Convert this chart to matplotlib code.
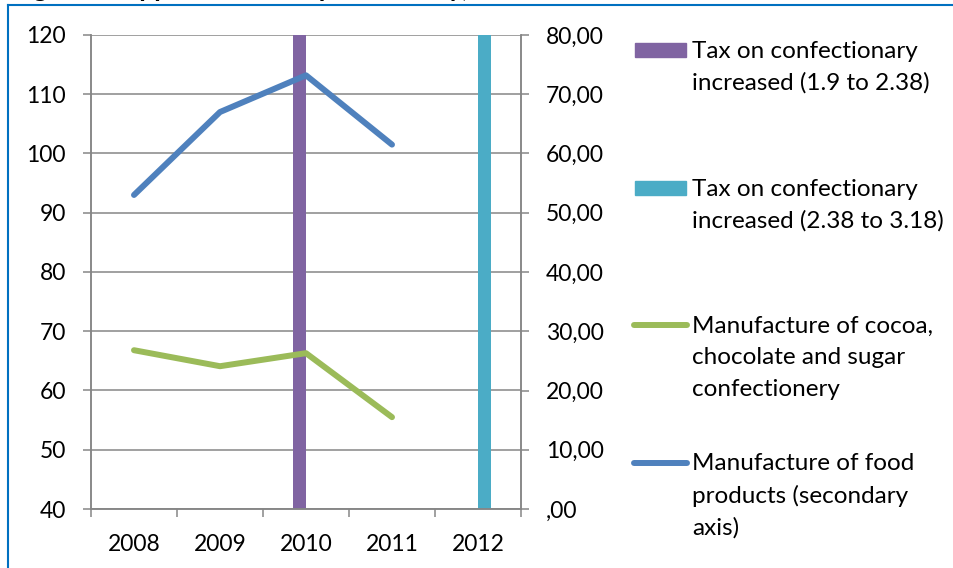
import matplotlib
matplotlib.use("Agg")
import matplotlib.pyplot as plt
import numpy as np
from matplotlib.lines import Line2D
from matplotlib.patches import Rectangle

YEARS = ["2008", "2009", "2010", "2011", "2012"]
TAX_STEP_1 = [np.nan, np.nan, 120, np.nan, np.nan]   # primary axis, full height
TAX_STEP_2 = [np.nan, np.nan, np.nan, np.nan, 120]
COCOA = [66.8, 64.1, 66.3, 55.5, np.nan]             # primary axis
FOOD = [53.0, 67.0, 73.2, 61.5, np.nan]              # secondary axis

LABELS = [
    "Tax on confectionary\nincreased (1.9 to 2.38)",
    "Tax on confectionary\nincreased (2.38 to 3.18)",
    "Manufacture of cocoa,\nchocolate and sugar\nconfectionery",
    "Manufacture of food\nproducts (secondary\naxis)",
]

PURPLE, CYAN, GREEN, BLUE = "#8064A2", "#4BACC6", "#9BBB59", "#4F81BD"
AXC = "#868686"
FONT = "Lato"
FS_TICK = 16.5
FS_LEG = 17.5

W, H = 954, 568
fig = plt.figure(figsize=(W / 100, H / 100), dpi=100)
plt.rcParams["font.family"] = FONT


def fx(px):
    return px / W


def fy(py):
    return 1 - py / H


ax = fig.add_axes([fx(91), fy(509), fx(521) - fx(91), fy(35) - fy(509)])
ax2 = ax.twinx()

x = np.arange(len(YEARS))
bw = 0.15
ymin = 40
ax.bar(x - bw / 2, np.array(TAX_STEP_1) - ymin, bottom=ymin, width=bw, color=PURPLE, zorder=2)
ax.bar(x + bw / 2, np.array(TAX_STEP_2) - ymin, bottom=ymin, width=bw, color=CYAN, zorder=2)
ax.plot(x, COCOA, color=GREEN, lw=4.3, solid_capstyle="round", solid_joinstyle="round", zorder=3)
ax2.plot(x, FOOD, color=BLUE, lw=4.3, solid_capstyle="round", solid_joinstyle="round", zorder=3)

ax.set_xlim(-0.5, 4.5)
ax.set_ylim(40, 120)
ax.set_yticks(range(40, 121, 10))
ax2.set_ylim(0, 80)
ax2.set_yticks(range(0, 81, 10))
ax2.set_yticklabels([(f"{v:.2f}".replace(".", ",") if v else ",00") for v in range(0, 81, 10)])

ax.set_xticks(x)
ax.set_xticklabels(YEARS)
ax.set_xticks(np.arange(-0.5, 5, 1), minor=True)
ax.tick_params(axis="x", which="major", length=0, pad=18, labelsize=FS_TICK)
ax.tick_params(axis="x", which="minor", length=6, width=1.1, color=AXC)
ax.tick_params(axis="y", length=6, width=1.1, color=AXC, pad=12, labelsize=FS_TICK)
ax2.tick_params(axis="y", length=6, width=1.1, color=AXC, pad=12, labelsize=FS_TICK)

ax.yaxis.grid(True, color=AXC, lw=1.1)
ax.set_axisbelow(True)
for a in (ax, ax2):
    a.spines["top"].set_visible(False)
    for s in ("left", "right", "bottom"):
        a.spines[s].set_color(AXC)
        a.spines[s].set_linewidth(1.1)
ax2.set_zorder(ax.get_zorder() + 1)
ax2.patch.set_visible(False)

# legend drawn by hand on the right
handles = [("patch", PURPLE, 50), ("patch", CYAN, 188), ("line", GREEN, 325), ("line", BLUE, 463)]
for (kind, col, py), lab in zip(handles, LABELS):
    if kind == "patch":
        fig.add_artist(Rectangle((fx(635), fy(py + 7)), fx(686) - fx(635), fy(py - 7) - fy(py + 7),
                                 transform=fig.transFigure, color=col))
    else:
        fig.add_artist(Line2D([fx(634), fx(687)], [fy(py), fy(py)], transform=fig.transFigure,
                              color=col, lw=4.3, solid_capstyle="round"))
    for i, line in enumerate(lab.split("\n")):
        fig.text(fx(692), fy(py + 1 + 32 * i), line, fontsize=FS_LEG, va="center", ha="left")

# frame of the surrounding document and clipped caption above it
fig.add_artist(Line2D([fx(8), 1], [fy(5), fy(5)], transform=fig.transFigure, color="#0070C0", lw=1.5))
fig.add_artist(Line2D([fx(8), fx(8)], [fy(5), 0], transform=fig.transFigure, color="#0070C0", lw=1.5))
fig.text(fx(12), fy(-3), "Figure 4: Apparent labour productivity, 2008-2012", fontsize=19,
         fontweight="bold", va="baseline", ha="left")

fig.savefig("out.png", dpi=100)
